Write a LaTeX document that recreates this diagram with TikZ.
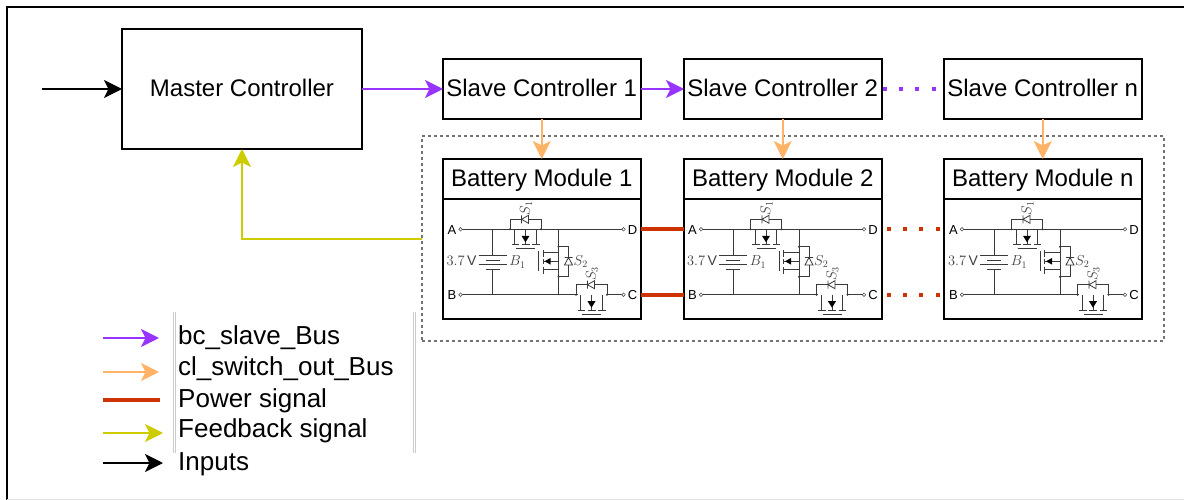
\documentclass[tikz,border=0pt]{standalone}
\usepackage{fontspec}
\setmainfont{Liberation Sans}
\usetikzlibrary{arrows.meta}
\definecolor{cpurple}{HTML}{9933FF}
\definecolor{corange}{HTML}{FFB366}
\definecolor{cpower}{HTML}{CC3300}
\definecolor{cfeed}{HTML}{CCCC00}
\definecolor{ccirc}{HTML}{3A3A3A}
\tikzset{
  x=1pt,y=-1pt,
  box/.style={draw=black,line width=2pt,outer sep=0pt,minimum width=197.5pt,inner sep=0pt,font=\fontsize{24}{24}\selectfont,text height=17pt,text depth=1pt,anchor=north west,fill=white},
  conn/.style={line width=2pt,-{Stealth[length=18pt,width=18pt,inset=4.5pt]}},
  pur/.style={conn,draw=cpurple},
  ora/.style={conn,draw=corange},
  fee/.style={conn,draw=cfeed},
  blk/.style={conn,draw=black},
  pow/.style={draw=cpower,line width=4pt},
  squaredots/.style={line width=4pt,dash pattern=on 4pt off 12.2pt},
  legtext/.style={anchor=base west,font=\fontsize{26}{26}\selectfont,inner sep=0pt},
  cw/.style={draw=ccirc,line width=0.8pt},
  tinypin/.style={draw=ccirc,line width=0.5pt,fill=white},
  lab/.style={font=\fontsize{14}{14}\selectfont,inner sep=0pt,text=black!75},
  pin/.style={font=\fontsize{13}{13}\selectfont,inner sep=0pt},
}
% horizontal MOSFET with its anti-parallel diode; origin is the left dot on the rail
\newcommand{\hswitch}[3]{%
  \begin{scope}[shift={(#1,#2)}]
    \draw[cw] (0,0) -- (0,-10) -- (31,-10) -- (31,0);
    \fill[ccirc] (0,0) circle (1.1) (31,0) circle (1.1);
    \fill[white] (11.5,-14) rectangle (18.5,-6);
    \draw[cw] (11.5,-14) -- (11.5,-6) (11.5,-10) -- (18.5,-14) -- (18.5,-6) -- cycle;
    \draw[cw] (4.5,0) -- (4.5,15.5) (26,0) -- (26,15.5) (15.5,0) -- (15.5,15.5);
    \draw[cw] (1.5,15.5) -- (9,15.5) (11.5,15.5) -- (19.5,15.5) (22,15.5) -- (29.5,15.5);
    \draw[cw] (6,19.5) -- (25,19.5);
    \fill[black] (11.5,6.5) -- (19.5,6.5) -- (15.5,13) -- cycle;
    \node[lab,rotate=90] at (16,-21) {$#3$};
  \end{scope}%
}
\newcommand{\circuit}[1]{%
  \begin{scope}[shift={(#1,0)}]
    \draw[cw] (18,229.3) -- (181,229.3) (18,294.7) -- (135,294.7) (164,294.7) -- (181,294.7);
    \draw[tinypin] (18,229.3) circle (1.8) (181,229.3) circle (1.8) (18,294.7) circle (1.8) (181,294.7) circle (1.8);
    \node[pin] at (9.5,229.8) {A};
    \node[pin] at (190,229.8) {D};
    \node[pin] at (9.5,295.2) {B};
    \node[pin] at (190,295.2) {C};
    % battery
    \draw[cw] (50,229.3) -- (50,255) (50,269) -- (50,294.7);
    \draw[cw,line width=1pt] (36,255) -- (64,255) (43,260) -- (57,260) (36,264.5) -- (64,264.5) (43,269) -- (57,269);
    \node[lab] at (19,261) {$3.7\,\mathrm{V}$};
    \node[lab] at (75,262) {$B_1$};
    % S1, S3
    \hswitch{67.5}{229.3}{S_1}
    \hswitch{133.5}{294.7}{S_3}
    % S2
    \draw[cw] (116,229.3) -- (116,294.7);
    \fill[ccirc] (116,246.7) circle (1.1) (116,276.7) circle (1.1);
    \draw[cw] (116,246.7) -- (126,246.7) -- (126,276.7) -- (116,276.7);
    \fill[white] (122,258) rectangle (130,265);
    \draw[cw] (122,257.5) -- (130,257.5) (126,257.5) -- (122,265) -- (130,265) -- cycle;
    \node[lab,anchor=west] at (131,261.5) {$S_2$};
    \draw[cw] (96,251) -- (96,270.8);
    \draw[cw] (100.5,250) -- (100.5,256.5) (100.5,259) -- (100.5,264) (100.5,266.5) -- (100.5,273.5);
    \draw[cw] (100.5,252.7) -- (116,252.7) (100.5,261.3) -- (116,261.3) (100.5,269.3) -- (116,269.3);
    \fill[black] (102,261.3) -- (108,258) -- (108,264.6) -- cycle;
  \end{scope}%
}
\begin{document}
\begin{tikzpicture}
\useasboundingbox (0,0) rectangle (1184,500);
% frame
\draw[draw=black,line width=1.6pt] (1184,7) -- (7,7) -- (7,500);
\draw[draw=black!10,line width=1pt] (7,499.5) -- (1184,499.5);
% legend rules
\draw[draw=black!20,line width=1pt] (173,312) -- (173,453) (175,312) -- (175,453) (413,312) -- (413,453) (415,312) -- (415,453);
% group
\node[draw=black!55,line width=1.3pt,dash pattern=on 3pt off 3pt,outer sep=0pt,minimum width=742pt,minimum height=205pt,anchor=north west,inner sep=0pt] (group) at (422,136) {};
% main boxes
\node[box,minimum width=240pt,minimum height=120pt] (master) at (122,29) {Master Controller};
\node[box,minimum height=60pt] (s1) at (443,59) {Slave Controller 1};
\node[box,minimum height=60pt] (s2) at (684,59) {Slave Controller 2};
\node[box,minimum height=60pt] (sn) at (944,59) {Slave Controller n};
\node[box,minimum height=40pt,text depth=2.5pt] (h1) at (443,159) {Battery Module 1};
\node[box,minimum height=40pt,text depth=2.5pt] (h2) at (684,159) {Battery Module 2};
\node[box,minimum height=40pt,text depth=2.5pt] (hn) at (944,159) {Battery Module n};
\node[box,minimum height=120pt] (b1) at (443,199) {};
\node[box,minimum height=120pt] (b2) at (684,199) {};
\node[box,minimum height=120pt] (bn) at (944,199) {};
\circuit{442.5}
\circuit{683}
\circuit{944}
% connector ends
\coordinate (in) at (42,89);
\coordinate (fb) at (422,239);
\coordinate (d1) at (641,229);
\coordinate (a2) at (684,229);
\coordinate (c1) at (641,295);
\coordinate (b2b) at (684,295);
\coordinate (d2) at (887,229);
\coordinate (an) at (943,229);
\coordinate (c2) at (887,295);
\coordinate (bnb) at (943,295);
% connectors
\draw[blk] (in) -- (master.west);
\draw[pur] (master.east) -- (s1.west);
\draw[pur] (s1.east) -- (s2.west);
\draw[draw=cpurple,squaredots] (s2.east) ++(1.5,0) -- (sn.west);
\draw[ora] (s1.south) -- (h1.north);
\draw[ora] (s2.south) -- (h2.north);
\draw[ora] (sn.south) -- (hn.north);
\draw[fee] (fb) -| (master.south);
\draw[pow] (d1) -- (a2);
\draw[pow] (c1) -- (b2b);
\draw[pow,squaredots] (d2) -- (an);
\draw[pow,squaredots] (c2) -- (bnb);
% legend
\coordinate (l1a) at (103,338); \coordinate (l1b) at (159,338);
\coordinate (l2a) at (103,372); \coordinate (l2b) at (159,372);
\coordinate (l3a) at (103,400); \coordinate (l3b) at (160,400);
\coordinate (l4a) at (103,433); \coordinate (l4b) at (163,433);
\coordinate (l5a) at (103,463); \coordinate (l5b) at (163,463);
\draw[pur] (l1a) -- (l1b);
\draw[ora] (l2a) -- (l2b);
\draw[pow] (l3a) -- (l3b);
\draw[fee] (l4a) -- (l4b);
\draw[blk] (l5a) -- (l5b);
\node[legtext] (t1) at (178,344.3) {bc\_slave\_Bus};
\node[legtext] (t2) at (178,375.7) {cl\_switch\_out\_Bus};
\node[legtext] (t3) at (178,407.3) {Power signal};
\node[legtext] (t4) at (178,437.3) {Feedback signal};
\node[legtext] (t5) at (178,470) {Inputs};
\end{tikzpicture}
\end{document}
